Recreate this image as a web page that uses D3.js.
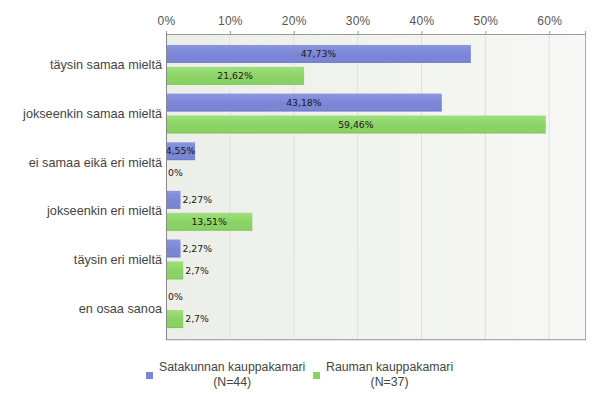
<!DOCTYPE html>
<html>
<head>
<meta charset="utf-8">
<script src="https://cdn.jsdelivr.net/npm/d3@7"></script>
<style>
  html, body { margin: 0; padding: 0; background: #fff; }
  svg { display: block; }
</style>
</head>
<body>
<div id="chart"></div>
<script>
    // data
    const categories = ["täysin samaa mieltä", "jokseenkin samaa mieltä", "ei samaa eikä eri mieltä",
                        "jokseenkin eri mieltä", "täysin eri mieltä", "en osaa sanoa"];
    const seriesNames = ["Satakunnan kauppakamari", "Rauman kauppakamari"];
    const seriesN = ["(N=44)", "(N=37)"];
    const satakunta = [47.73, 43.18, 4.55, 2.27, 2.27, 0];
    const rauma = [21.62, 59.46, 0, 13.51, 2.7, 2.7];
    const tickValues = [0, 10, 20, 30, 40, 50, 60];

    const width = 600, height = 393;
    const plotLeft = 166, plotRight = 585, plotTop = 34, plotBottom = 339;
    const sansFont = "'Liberation Sans', Arial, sans-serif";

    const svg = d3.select("#chart").append("svg")
        .attr("width", width).attr("height", height);

    const defs = svg.append("defs");
    const bg = defs.append("linearGradient").attr("id", "bg").attr("x1", "0%").attr("x2", "100%");
    bg.append("stop").attr("offset", "0%").attr("stop-color", "#eceee8");
    bg.append("stop").attr("offset", "100%").attr("stop-color", "#f7f8f5");

    const barColors = [
        ["#8b96e0", "#7a85d6", "#6c76c6"],
        ["#a0df7c", "#8bd265", "#78bd55"]
    ];
    barColors.forEach((c, i) => {
        const gr = defs.append("linearGradient").attr("id", "bar" + i)
            .attr("x1", "0%").attr("x2", "0%").attr("y1", "0%").attr("y2", "100%");
        gr.append("stop").attr("offset", "0%").attr("stop-color", c[0]);
        gr.append("stop").attr("offset", "55%").attr("stop-color", c[1]);
        gr.append("stop").attr("offset", "90%").attr("stop-color", c[1]);
        gr.append("stop").attr("offset", "100%").attr("stop-color", c[2]);
    });

    const x = d3.scaleLinear().domain([0, 65.6]).range([plotLeft, plotRight]);
    const y = d3.scaleBand().domain(categories).range([plotTop, plotBottom])
        .paddingInner(0.18).paddingOuter(0.225);
    const ySub = d3.scaleBand().domain([0, 1]).range([0, y.bandwidth()]).paddingInner(0.18);

    // plot background
    svg.append("rect")
        .attr("x", plotLeft).attr("y", plotTop)
        .attr("width", plotRight - plotLeft).attr("height", plotBottom - plotTop)
        .attr("fill", "url(#bg)");

    // grid
    svg.append("g").selectAll("line")
        .data(tickValues.slice(1))
        .join("line")
        .attr("x1", d => x(d)).attr("x2", d => x(d))
        .attr("y1", plotTop).attr("y2", plotBottom)
        .attr("stroke", "#dfe1dc").attr("stroke-width", 1);

    // top axis
    const axis = svg.append("g")
        .attr("transform", `translate(0,${plotTop})`)
        .call(d3.axisTop(x).tickValues(tickValues).tickSize(3).tickPadding(6).tickFormat(d => d + "%"));
    axis.select(".domain").attr("stroke", "#999");
    axis.selectAll(".tick line").attr("stroke", "#999");
    axis.selectAll(".tick text")
        .attr("fill", "#555")
        .style("font-family", sansFont)
        .style("font-size", "12px")
        .style("letter-spacing", "0.3px");

    // borders
    svg.append("line").attr("x1", plotRight + 0.5).attr("x2", plotRight + 0.5)
        .attr("y1", plotTop).attr("y2", plotBottom)
        .attr("stroke", "#aaa");
    svg.append("line").attr("x1", plotLeft).attr("x2", plotRight + 1)
        .attr("y1", plotBottom + 0.5).attr("y2", plotBottom + 0.5)
        .attr("stroke", "#aaa");
    svg.append("line").attr("x1", plotLeft).attr("x2", plotRight + 1)
        .attr("y1", plotBottom + 1.5).attr("y2", plotBottom + 1.5)
        .attr("stroke", "#e4e4e4");

    // bars
    const series = [satakunta, rauma];
    const barFont = "'DejaVu Sans', Verdana, sans-serif";
    series.forEach((vals, si) => {
        const g = svg.append("g");
        const rows = categories.map((c, i) => ({ c, v: vals[i] }));
        g.selectAll("rect")
            .data(rows)
            .join("rect")
            .attr("x", x(0))
            .attr("y", d => y(d.c) + ySub(si))
            .attr("width", d => x(d.v) - x(0))
            .attr("height", ySub.bandwidth())
            .attr("fill", `url(#bar${si})`);

        g.selectAll("text")
            .data(rows)
            .join("text")
            .attr("y", d => y(d.c) + ySub(si) + ySub.bandwidth() / 2)
            .attr("dy", "0.35em")
            .attr("fill", "#1a1a1a")
            .style("font-family", barFont)
            .style("font-size", "9.3px")
            .text(d => String(d.v).replace(".", ",") + "%")
            .each(function(d) {
                const w = this.getComputedTextLength();
                const bw = x(d.v) - x(0);
                const t = d3.select(this);
                if (w <= bw + 1) {
                    t.attr("x", x(0) + bw / 2).attr("text-anchor", "middle");
                } else {
                    t.attr("x", x(d.v) + 2).attr("text-anchor", "start");
                }
            });
    });

    // left axis line
    svg.append("line").attr("x1", plotLeft + 0.5).attr("x2", plotLeft + 0.5)
        .attr("y1", plotTop).attr("y2", plotBottom + 1)
        .attr("stroke", "#888");

    // category labels
    svg.append("g").selectAll("text")
        .data(categories)
        .join("text")
        .attr("x", 162)
        .attr("y", d => y(d) + y.bandwidth() / 2)
        .attr("dy", "0.35em")
        .attr("text-anchor", "end")
        .attr("fill", "#444")
        .style("font-family", sansFont)
        .style("font-size", "12.7px")
        .text(d => d);

    // legend
    const legendX = [146, 313];
    const legend = svg.append("g");
    seriesNames.forEach((name, i) => {
        const lg = legend.append("g");
        lg.append("rect")
            .attr("x", legendX[i]).attr("y", 372)
            .attr("width", 7).attr("height", 7)
            .attr("fill", barColors[i][1]);
        const t1 = lg.append("text")
            .attr("x", legendX[i] + 13).attr("y", 371)
            .attr("fill", "#444")
            .style("font-family", sansFont)
            .style("font-size", "12.3px")
            .text(name);
        const w = t1.node().getComputedTextLength();
        lg.append("text")
            .attr("x", legendX[i] + 13 + w / 2).attr("y", 386)
            .attr("text-anchor", "middle")
            .attr("fill", "#444")
            .style("font-family", sansFont)
            .style("font-size", "12.3px")
            .text(seriesN[i]);
    });
</script>
</body>
</html>
